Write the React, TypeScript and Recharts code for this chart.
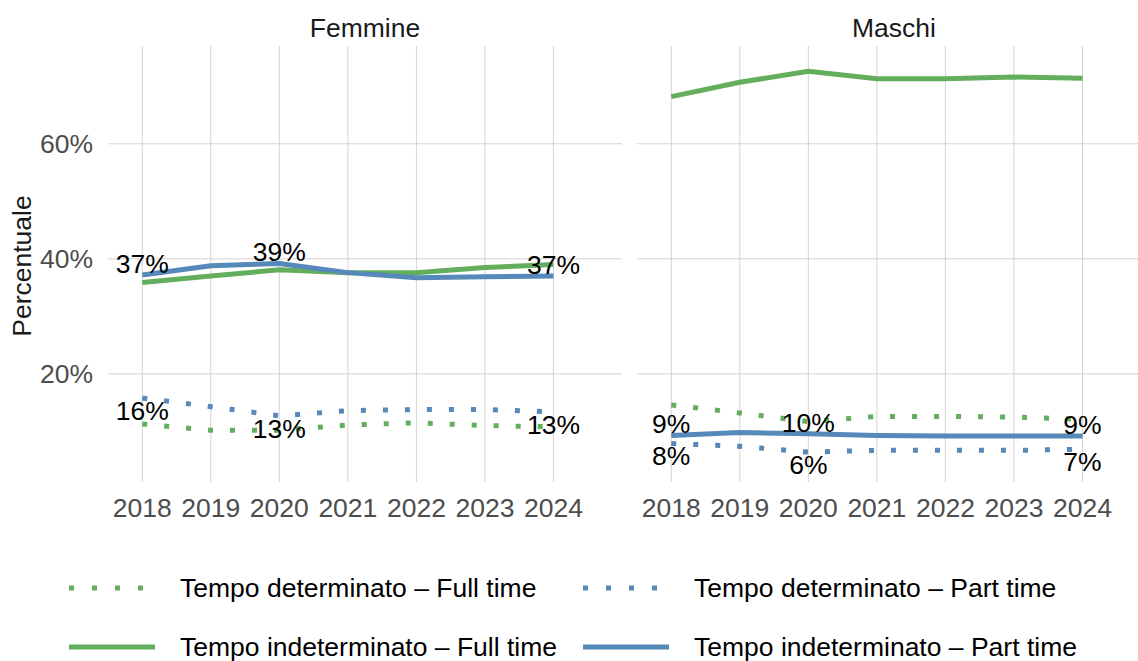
import { LineChart, Line, XAxis, YAxis, CartesianGrid, LabelList } from 'recharts';

const YEARS = [2018, 2019, 2020, 2021, 2022, 2023, 2024];
const Y_TICKS = [20, 40, 60];
const LABEL_YEARS = [2018, 2020, 2024];

// Femmine
const F_DET_FULL = [11.3, 10.2, 10.2, 11.1, 11.5, 11.0, 10.8];
const F_DET_PART = [15.8, 14.3, 12.7, 13.6, 13.8, 13.8, 13.4];
const F_IND_FULL = [35.9, 37.0, 38.1, 37.6, 37.6, 38.5, 39.0];
const F_IND_PART = [37.2, 38.8, 39.2, 37.6, 36.7, 36.9, 37.0];

// Maschi
const M_DET_FULL = [14.6, 13.2, 11.7, 12.6, 12.6, 12.5, 12.1];
const M_DET_PART = [7.9, 7.4, 6.4, 6.7, 6.7, 6.7, 6.9];
const M_IND_FULL = [68.2, 70.7, 72.6, 71.3, 71.3, 71.6, 71.4];
const M_IND_PART = [9.3, 9.8, 9.6, 9.3, 9.2, 9.2, 9.2];

const GREEN = '#63ae5c';
const BLUE = '#5788ba';
const FONT = '"Liberation Sans", Arial, sans-serif';
const FS = 26.5;

function buildRows(detFull: number[], detPart: number[], indFull: number[], indPart: number[]) {
  return YEARS.map((year, i) => {
    const lab = LABEL_YEARS.includes(year);
    return {
      year,
      detFull: detFull[i],
      detPart: detPart[i],
      indFull: indFull[i],
      indPart: indPart[i],
      detPartLbl: lab ? detPart[i] : null,
      indPartLbl: lab ? indPart[i] : null,
    };
  });
}

const femmine = buildRows(F_DET_FULL, F_DET_PART, F_IND_FULL, F_IND_PART);
const maschi = buildRows(M_DET_FULL, M_DET_PART, M_IND_FULL, M_IND_PART);

const pctLabel = (dy: number) => (props: any) => {
  const { x, y, value } = props;
  if (value === null || value === undefined) return null;
  return (
    <text x={x} y={y + dy} textAnchor="middle" dominantBaseline="central"
      fontSize={FS} fontFamily={FONT} fill="#000">
      {Math.round(value)}%
    </text>
  );
};

function Panel({ rows, showY, width, left, title }: any) {
  return (
    <div style={{ position: 'absolute', left, top: 0 }}>
      <div style={{
        position: 'absolute', top: 12, left: showY ? 108 : 0, width: showY ? width - 108 : width,
        textAlign: 'center', fontSize: FS, color: '#1a1a1a', lineHeight: '32px',
      }}>{title}</div>
      <LineChart width={width} height={540} data={rows} margin={{ top: 46, right: 0, bottom: 0, left: 0 }}>
        <CartesianGrid stroke="#d3d3d3" strokeWidth={1} horizontalValues={Y_TICKS} verticalValues={YEARS} />
        <XAxis dataKey="year" type="number" domain={[2017.5, 2025]} ticks={YEARS}
          axisLine={false} tickLine={false} tickSize={0} tickMargin={16} height={58}
          tick={{ fontSize: FS, fill: '#4d4d4d', fontFamily: FONT }} interval={0} />
        <YAxis type="number" domain={[1.2, 77]} ticks={Y_TICKS} hide={!showY} width={108}
          axisLine={false} tickLine={false} tickSize={0} tickMargin={15}
          tickFormatter={(v) => `${v}%`}
          tick={{ fontSize: FS, fill: '#4d4d4d', fontFamily: FONT }} />
        <Line dataKey="detFull" type="linear" stroke={GREEN} strokeWidth={5}
          strokeDasharray="5 17" strokeLinecap="butt" dot={false} isAnimationActive={false} />
        <Line dataKey="detPart" type="linear" stroke={BLUE} strokeWidth={5}
          strokeDasharray="5 17" strokeLinecap="butt" dot={false} isAnimationActive={false}>
          <LabelList dataKey="detPartLbl" content={pctLabel(13)} />
        </Line>
        <Line dataKey="indFull" type="linear" stroke={GREEN} strokeWidth={5}
          dot={false} isAnimationActive={false} />
        <Line dataKey="indPart" type="linear" stroke={BLUE} strokeWidth={5}
          dot={false} isAnimationActive={false}>
          <LabelList dataKey="indPartLbl" content={pctLabel(-11)} />
        </Line>
      </LineChart>
    </div>
  );
}

const LEGEND = [
  { name: 'Tempo determinato – Full time', color: GREEN, dash: true, x: 69, y: 588 },
  { name: 'Tempo determinato – Part time', color: BLUE, dash: true, x: 583, y: 588 },
  { name: 'Tempo indeterminato – Full time', color: GREEN, dash: false, x: 69, y: 647 },
  { name: 'Tempo indeterminato – Part time', color: BLUE, dash: false, x: 583, y: 647 },
];

export default function App() {
  return (
    <div style={{
      position: 'absolute', left: 0, top: 0, width: 1138, height: 661, overflow: 'hidden',
      background: '#fff', fontFamily: FONT,
    }}>
      <div style={{
        position: 'absolute', left: 22, top: 266, transform: 'translate(-50%, -50%) rotate(-90deg)',
        fontSize: FS, color: '#1a1a1a', whiteSpace: 'nowrap', lineHeight: '30px',
      }}>Percentuale</div>
      <Panel rows={femmine} showY width={622} left={0} title="Femmine" />
      <Panel rows={maschi} showY={false} width={514} left={637} title="Maschi" />
      <svg width={1138} height={661} style={{ position: 'absolute', left: 0, top: 0, pointerEvents: 'none' }}>
        {LEGEND.map((l) => (
          <g key={l.name}>
            <line x1={l.x} x2={l.x + 86} y1={l.y} y2={l.y} stroke={l.color} strokeWidth={5}
              strokeDasharray={l.dash ? '5 18' : undefined} strokeLinecap="butt" />
            <text x={l.x + 111} y={l.y} dominantBaseline="central" fontSize={FS}
              fontFamily={FONT} fill="#000">{l.name}</text>
          </g>
        ))}
      </svg>
    </div>
  );
}
